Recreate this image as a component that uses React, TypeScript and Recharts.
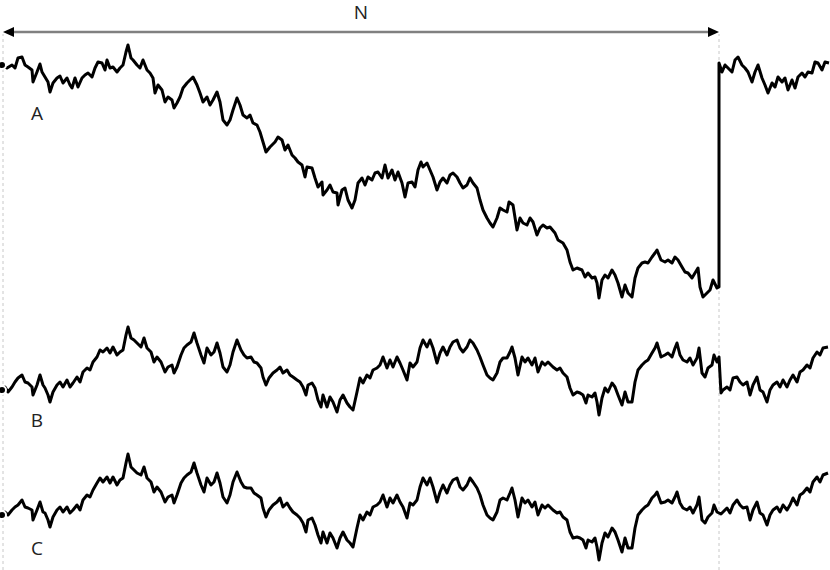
import { LineChart, Line, XAxis, YAxis, ReferenceLine, ReferenceDot } from "recharts";

// sample positions (A has its own; B and C share one)
const tA = [
  2, 7, 12, 15, 18, 22, 25, 28, 32, 33, 37, 40, 42, 45, 48, 50, 53, 57, 60, 63, 67, 70, 72, 75, 78, 82, 85, 88, 92, 95,
  98, 102, 105, 107, 110, 113, 117, 120, 123, 126, 128, 131, 133, 137, 140, 143, 147, 150, 153, 155, 158, 162, 165, 168,
  172, 174, 177, 180, 183, 187, 190, 193, 197, 200, 203, 207, 210, 213, 217, 220, 223, 227, 230, 233, 237, 240, 243, 247,
  250, 253, 257, 260, 263, 266,
  270, 275, 278, 282, 285, 288, 292, 295, 298, 302, 305, 307, 312, 315, 318, 322, 323, 327, 330, 333, 337, 338, 342, 345,
  348, 352, 355, 358, 362, 365, 368, 372, 375, 378, 382, 385, 388, 392, 395, 398, 402, 405, 408, 412, 415, 418, 421, 423,
  427, 430, 433, 437, 440, 443, 447, 450, 453, 457, 460, 463, 467, 470, 473, 477, 480, 483, 487, 490, 493, 497, 500, 503,
  507, 509, 513, 517, 520, 523, 527, 530, 533, 537, 540, 543, 547,
  550, 555, 558, 563, 567, 570, 573, 577, 582, 585, 588, 592, 595, 597, 599, 602, 605, 608, 612, 615, 618, 622, 625, 628,
  632, 635, 638, 642, 645, 648, 652, 655, 657, 661, 665, 668, 672, 675, 678, 682, 685, 688, 692, 695, 698, 700, 703, 707,
  710, 713, 717, 719,
  719, 722, 725, 728, 732, 735, 738, 742, 745, 748, 752, 755, 758, 762, 765, 768, 772, 775, 778, 782, 785, 788, 792, 795,
  798, 802, 805, 808, 812, 815, 818, 822, 825, 829,
];

const seriesA = [
  235, 232, 235, 232, 242, 243, 235, 233, 230, 218, 228, 236, 228, 223, 218, 208, 217, 222, 224, 217,
  222, 215, 212, 222, 213, 222, 225, 227, 223, 232, 238, 237, 230, 240, 232, 233, 228, 232, 235, 248,
  255, 242, 240, 235, 232, 240, 230, 227, 222, 207, 215, 210, 198, 203, 200, 192, 197, 203, 212, 217,
  220, 223, 215, 207, 198, 203, 195, 200, 208, 198, 180, 175, 180, 190, 202, 195, 185, 182, 185, 177,
  175, 168, 158, 148,
  153, 158, 163, 160, 150, 155, 145, 142, 138, 135, 123, 133, 132, 122, 113, 118, 105, 110, 115, 108,
  107, 95, 110, 112, 100, 92, 100, 117, 122, 115, 123, 120, 127, 128, 122, 135, 122, 130, 120, 128,
  117, 103, 117, 118, 113, 130, 138, 133, 137, 130, 123, 110, 118, 122, 117, 125, 127, 123, 117, 112,
  115, 122, 117, 112, 100, 90, 82, 77, 73, 82, 92, 90, 88, 98, 95, 70, 82, 77, 75, 82,
  78, 65, 72, 75, 72,
  73, 67, 60, 57, 50, 38, 30, 32, 30, 23, 27, 22, 23, 17, 2, 20, 25, 22, 30, 25,
  17, 3, 15, 7, 3, 22, 32, 37, 38, 37, 43, 47, 50, 40, 38, 40, 37, 43, 40, 33,
  28, 27, 22, 27, 32, 13, 3, 7, 10, 20, 12, 13,
  237, 228, 235, 232, 228, 240, 243, 235, 232, 228, 218, 228, 235, 222, 215, 207, 217, 213, 223, 218,
  222, 210, 220, 212, 223, 227, 223, 228, 227, 238, 237, 230, 238, 237,
];

const tBC = [
  2, 5, 8, 12, 15, 18, 22, 25, 28, 32, 33, 37, 40, 43, 45, 48, 50, 53, 57, 60, 63, 67, 70, 73, 77, 80, 83, 87, 90, 93,
  97, 100, 103, 107, 110, 113, 117, 120, 123, 126, 128, 131, 134, 137, 141, 144, 147, 151, 154, 157, 161, 165, 168, 172,
  174, 177, 181, 184, 187, 191, 194, 197, 201, 204, 207, 211, 214, 217, 220, 223, 227, 230, 233, 237, 241, 244, 247, 251,
  254, 257, 261, 263, 266, 269, 273,
  277, 280, 283, 287, 290, 293, 297, 300, 303, 306, 308, 312, 315, 318, 321, 323, 327, 330, 333, 337, 340, 343, 347, 350,
  353, 357, 360, 363, 367, 370, 373, 377, 380, 383, 387, 390, 393, 397, 400, 403, 407, 410, 413, 417, 420, 423, 427, 430,
  433, 437, 440, 443, 447, 450, 453, 457, 460, 463, 467, 470, 473, 477, 480, 483, 487, 490, 493, 497, 500, 503, 507, 510,
  512, 515, 518, 522, 525, 528, 532, 535, 538, 542, 545, 548,
  553, 557, 560, 563, 567, 570, 573, 577, 580, 583, 586, 588, 592, 595, 597, 599, 602, 605, 608, 612, 615, 618, 622, 625,
  628, 632, 635, 638, 642, 645, 648, 652, 655, 657, 661, 665, 668, 672, 675, 677, 680, 683, 687, 690, 693, 697, 699, 702,
  705, 708, 712, 714, 717, 719, 721, 723, 727, 730, 733, 737, 740, 743, 747, 750, 753, 757, 760, 763, 767, 770, 773, 777,
  780, 783, 787, 790, 793, 797, 800, 803, 807, 810, 813, 817, 820, 823, 828,
];

const seriesB = [
  30, 33, 28, 33, 38, 42, 45, 38, 37, 33, 25, 35, 45, 35, 32, 25, 18, 28, 35, 38,
  33, 40, 33, 37, 43, 38, 48, 52, 50, 58, 63, 70, 68, 72, 67, 73, 65, 68, 70, 85,
  93, 82, 80, 77, 73, 82, 72, 68, 58, 63, 58, 48, 53, 55, 47, 53, 65, 72, 75, 78,
  87, 77, 65, 57, 72, 65, 68, 77, 67, 53, 48, 55, 68, 80, 70, 65, 62, 63, 58, 57,
  52, 43, 35, 42, 47,
  50, 53, 47, 50, 45, 43, 40, 38, 33, 25, 35, 37, 32, 20, 13, 25, 13, 23, 18, 8,
  20, 25, 17, 13, 10, 28, 42, 37, 45, 42, 50, 52, 55, 63, 52, 60, 53, 63, 57, 50,
  40, 57, 53, 58, 72, 80, 73, 80, 72, 57, 67, 73, 65, 73, 78, 80, 72, 68, 73, 80,
  77, 70, 63, 55, 45, 42, 40, 47, 58, 62, 62, 68, 73, 62, 45, 63, 58, 62, 55, 62,
  48, 58, 55, 58,
  53, 50, 52, 47, 43, 32, 25, 28, 27, 25, 17, 25, 23, 27, 18, 5, 22, 32, 28, 37,
  33, 25, 15, 28, 18, 18, 38, 50, 55, 58, 60, 67, 72, 77, 63, 65, 67, 63, 72, 77,
  65, 60, 58, 62, 55, 62, 72, 47, 43, 52, 55, 65, 58, 63, 27, 30, 33, 30, 42, 43,
  38, 35, 38, 25, 35, 43, 30, 28, 18, 30, 35, 38, 33, 40, 33, 40, 45, 38, 48, 50,
  55, 52, 62, 68, 65, 72, 73,
];

const seriesC = [
  50, 53, 50, 55, 58, 60, 65, 58, 57, 55, 45, 55, 63, 53, 52, 45, 38, 48, 55, 58,
  53, 58, 52, 55, 60, 55, 65, 70, 68, 75, 82, 87, 83, 88, 82, 88, 80, 85, 87, 102,
  111, 98, 95, 92, 90, 98, 87, 83, 73, 78, 73, 63, 68, 70, 62, 70, 82, 87, 90, 93,
  102, 92, 80, 73, 87, 80, 83, 92, 82, 68, 62, 70, 83, 93, 83, 78, 77, 77, 72, 70,
  67, 57, 48, 55, 60,
  63, 67, 58, 62, 57, 53, 50, 47, 42, 33, 45, 47, 40, 30, 22, 33, 22, 32, 27, 17,
  27, 33, 25, 22, 18, 37, 50, 45, 53, 50, 58, 60, 63, 70, 58, 67, 62, 70, 63, 58,
  47, 62, 60, 65, 78, 87, 80, 87, 78, 63, 73, 80, 72, 80, 85, 87, 78, 75, 80, 87,
  83, 77, 70, 60, 50, 47, 45, 53, 65, 67, 65, 72, 77, 65, 48, 67, 62, 65, 58, 63,
  50, 60, 57, 60,
  55, 52, 53, 48, 45, 33, 27, 28, 27, 25, 17, 25, 23, 27, 18, 5, 22, 32, 28, 37,
  33, 25, 13, 27, 17, 17, 37, 50, 55, 58, 60, 67, 70, 73, 62, 63, 65, 62, 68, 73,
  62, 57, 55, 58, 52, 60, 68, 45, 42, 48, 52, 60, 53, 52, 51, 53, 57, 52, 60, 65,
  60, 57, 58, 45, 55, 63, 52, 50, 40, 50, 55, 58, 53, 60, 55, 60, 67, 60, 70, 72,
  77, 73, 83, 88, 83, 90, 92,
];

const windowStart = 3;
const windowEnd = 719; // N samples
const labels = ["A", "B", "C"];

const W = 830;
const H = 570;
// vertical placement of each trace inside the shared y range
const offsets = { A: 270, B: 150, C: 5 };
const labelLevels = { A: 457, B: 150, C: 22 };

function toData(ts: number[], vs: number[], off: number) {
  return ts.map((t, i) => ({ t, v: vs[i] + off }));
}

const font = "'Open Sans', 'DejaVu Sans', sans-serif";

function ArrowShape(props: any) {
  const { x1, y1, x2, y2 } = props;
  const head = 11;
  const hw = 5;
  return (
    <g>
      <line x1={x1 + head} y1={y1} x2={x2 - head} y2={y2} stroke="#808080" strokeWidth={2.5} />
      <polygon points={`${x1},${y1} ${x1 + head},${y1 - hw} ${x1 + head},${y1 + hw}`} fill="#000" />
      <polygon points={`${x2},${y2} ${x2 - head},${y2 - hw} ${x2 - head},${y2 + hw}`} fill="#000" />
      <text x={(x1 + x2) / 2} y={y1 - 13} textAnchor="middle" fontFamily={font} fontSize={19} fill="#222">
        N
      </text>
    </g>
  );
}

const lineProps = {
  dataKey: "v",
  type: "linear" as const,
  stroke: "#000",
  strokeWidth: 3,
  strokeLinejoin: "round" as const,
  dot: false,
  isAnimationActive: false,
};

export default function App() {
  const dataA = toData(tA, seriesA, offsets.A);
  const dataB = toData(tBC, seriesB, offsets.B);
  const dataC = toData(tBC, seriesC, offsets.C);
  const dashTop = H - 34;

  return (
    <div style={{ position: "absolute", left: 0, top: 0, background: "#fff" }}>
      <LineChart width={W} height={H} margin={{ top: 0, right: 0, bottom: 0, left: 0 }}>
        <XAxis type="number" dataKey="t" domain={[0, W]} hide allowDataOverflow />
        <YAxis type="number" domain={[0, H]} hide allowDataOverflow />
        <ReferenceLine
          segment={[{ x: windowStart, y: 0 }, { x: windowStart, y: dashTop }]}
          stroke="#c8c8c8"
          strokeDasharray="3 3"
        />
        <ReferenceLine
          segment={[{ x: windowEnd, y: 0 }, { x: windowEnd, y: dashTop }]}
          stroke="#c8c8c8"
          strokeDasharray="3 3"
        />
        <ReferenceLine
          segment={[{ x: windowStart, y: H - 32 }, { x: windowEnd, y: H - 32 }]}
          shape={ArrowShape}
        />
        <Line data={dataA} {...lineProps} />
        <Line data={dataB} {...lineProps} />
        <Line data={dataC} {...lineProps} />
        {labels.map((l) => (
          <ReferenceDot
            key={l}
            x={37}
            y={labelLevels[l as keyof typeof labelLevels]}
            r={0}
            fill="none"
            stroke="none"
            label={{ value: l, position: "center", fontFamily: font, fontSize: 19, fill: "#222" }}
          />
        ))}
      </LineChart>
    </div>
  );
}
